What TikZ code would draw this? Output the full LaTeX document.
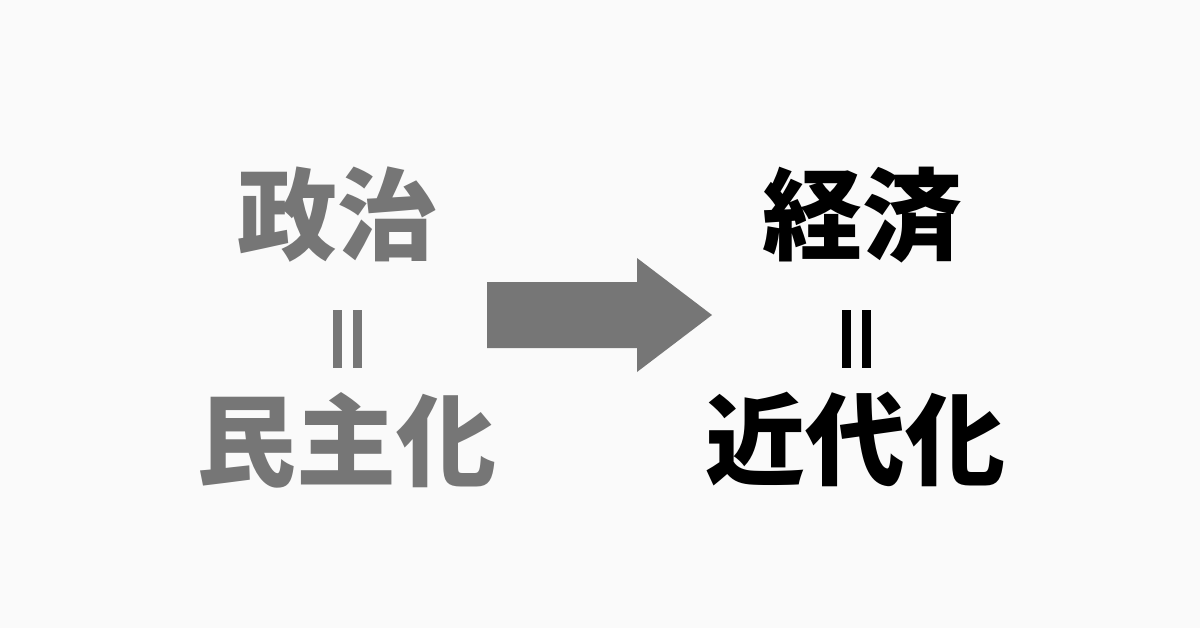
\documentclass[tikz,border=0pt]{standalone}
\usepackage{fontspec}
\newfontfamily\cjk{Noto Sans CJK JP}
\definecolor{bg}{HTML}{FAFAFA}
\definecolor{gr}{HTML}{767676}
\begin{document}
\begin{tikzpicture}[x=0.5pt,y=-0.5pt,
  word/.style={font=\cjk\bfseries\fontsize{50}{50}\selectfont,inner sep=0pt,anchor=center},
  bar/.style={line width=4.5pt}]
\fill[bg] (0,0) rectangle (1200,628);
\useasboundingbox (0,0) rectangle (1200,628);
\node[word,text=gr] (seiji) at (337,215) {政治};
\node[word,text=gr] (minshu) at (346,440) {民主化};
\node[word,text=black] (keizai) at (862,215) {経済};
\node[word,text=black] (kindai) at (855,440) {近代化};
\draw[bar,gr] (337,310) -- (337,368) (357,310) -- (357,368);
\draw[bar,black] (846,310) -- (846,368) (866,310) -- (866,368);
\fill[gr] (487,282) -- (637,282) -- (637,258) -- (712,315) -- (637,372) -- (637,348) -- (487,348) -- cycle;
\end{tikzpicture}
\end{document}
